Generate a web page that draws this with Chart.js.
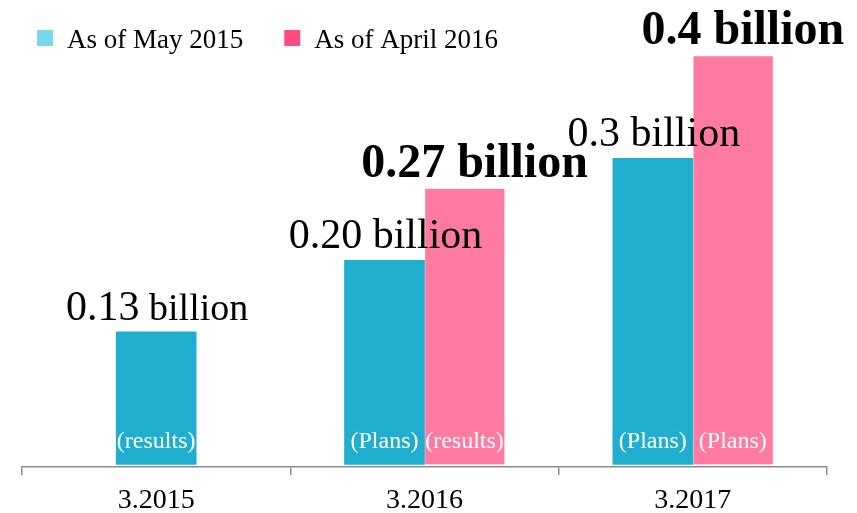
<!DOCTYPE html>
<html>
<head>
<meta charset="utf-8">
<script src="https://cdn.jsdelivr.net/npm/chart.js@4.4.0/dist/chart.umd.min.js"></script>
<style>
  html, body { margin: 0; padding: 0; background: #fff; }
</style>
</head>
<body>
<canvas id="barChart" width="857" height="513"></canvas>
<script>
// Chart data
const categories = ['3.2015', '3.2016', '3.2017'];
const seriesNames = ['As of May 2015', 'As of April 2016'];
const may2015Text = ['0.13', '0.20', '0.3'];
const april2016Text = [null, '0.27', '0.4'];
const may2015Notes = ['(results)', '(Plans)', '(Plans)'];
const april2016Notes = [null, '(results)', '(Plans)'];
const unit = 'billion';

// bar heights come straight from the label text so both always agree
const toValues = (arr) => arr.map(t => (t === null ? null : parseFloat(t)));
const may2015 = toValues(may2015Text);
const april2016 = toValues(april2016Text);

const SERIF = '"Liberation Serif", "Times New Roman", serif';
const barColors = ['#20AECF', '#FF7AA0'];
const legendColors = ['#7AD8EC', '#FF4A85'];

// per-series look of the value labels above the bars
const labelStyle = [
  { weight: 'normal', size: 42, unitSizes: [38, 42, 42], dx: 1 },
  { weight: 'bold', size: 48, unitSizes: [48, 48, 48], dx: 10 }
];

const valueTexts = [may2015Text, april2016Text];
const noteTexts = [may2015Notes, april2016Notes];

const barLabels = {
  id: 'barLabels',
  afterDatasetsDraw(chart) {
    const ctx = chart.ctx;
    const zeroY = chart.scales.y.getPixelForValue(0);
    ctx.save();
    chart.data.datasets.forEach((ds, di) => {
      const meta = chart.getDatasetMeta(di);
      const st = labelStyle[di];
      meta.data.forEach((bar, i) => {
        if (ds.data[i] === null) return;
        // value label: number + unit, centred over the bar
        const num = valueTexts[di][i];
        const numFont = st.weight + ' ' + st.size + 'px ' + SERIF;
        const unitFont = st.weight + ' ' + st.unitSizes[i] + 'px ' + SERIF;
        ctx.font = numFont;
        const wNum = ctx.measureText(num).width;
        ctx.font = unitFont;
        const wUnit = ctx.measureText(' ' + unit).width;
        let x = bar.x + st.dx - (wNum + wUnit) / 2;
        const y = bar.y - 12;
        ctx.fillStyle = '#000';
        ctx.textAlign = 'left';
        ctx.textBaseline = 'alphabetic';
        ctx.font = numFont;
        ctx.fillText(num, x, y);
        ctx.font = unitFont;
        ctx.fillText(' ' + unit, x + wNum, y);

        // note at the foot of the bar
        const note = noteTexts[di][i];
        if (note) {
          ctx.font = '24px ' + SERIF;
          ctx.fillStyle = '#fff';
          ctx.textAlign = 'center';
          ctx.fillText(note, bar.x, zeroY - 16);
        }
      });
    });
    ctx.restore();
  }
};

// legend drawn by hand so it doesn't push the plot area down
const topLegend = {
  id: 'topLegend',
  afterDraw(chart) {
    const ctx = chart.ctx;
    ctx.save();
    ctx.font = '27px ' + SERIF;
    ctx.textBaseline = 'alphabetic';
    ctx.textAlign = 'left';
    let x = 37;
    chart.data.datasets.forEach((ds, di) => {
      ctx.fillStyle = legendColors[di];
      ctx.fillRect(x, 30, 16, 16);
      ctx.fillStyle = '#000';
      ctx.fillText(ds.label, x + 30, 48);
      x += 30 + ctx.measureText(ds.label).width + 41;
    });
    ctx.restore();
  }
};

const ctx = document.getElementById('barChart').getContext('2d');

new Chart(ctx, {
  type: 'bar',
  data: {
    labels: categories,
    datasets: [
      {
        label: seriesNames[0],
        data: may2015,
        backgroundColor: barColors[0],
        barThickness: 80,
        skipNull: true
      },
      {
        label: seriesNames[1],
        data: april2016,
        backgroundColor: barColors[1],
        borderColor: '#fff',
        borderWidth: { left: 1, right: 0, top: 0, bottom: 0 },
        barThickness: 80,
        skipNull: true
      }
    ]
  },
  options: {
    responsive: false,
    animation: false,
    layout: { padding: { left: 22, right: 30, top: 0, bottom: 0 } },
    plugins: {
      legend: { display: false },
      tooltip: { enabled: false }
    },
    scales: {
      x: {
        offset: true,
        grid: {
          display: true,
          offset: true,
          drawOnChartArea: false,
          drawTicks: true,
          tickLength: 8,
          color: '#8c8c8c',
          lineWidth: 1.5
        },
        border: { display: true, color: '#8c8c8c', width: 1.5 },
        ticks: {
          color: '#000',
          font: { family: SERIF, size: 28 },
          padding: 9,
          maxRotation: 0
        },
        afterFit(scale) { scale.height = 46; }
      },
      y: {
        display: false,
        min: -0.0025,
        max: 0.455
      }
    }
  },
  plugins: [barLabels, topLegend]
});
</script>
</body>
</html>
